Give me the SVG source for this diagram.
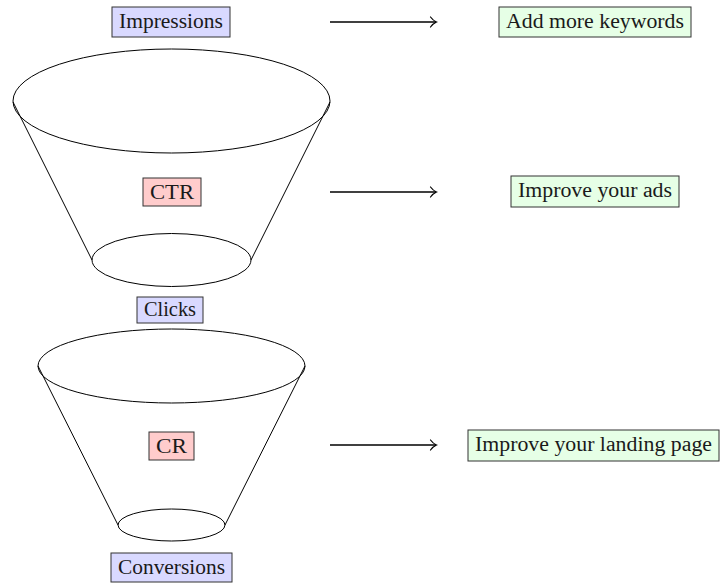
<svg xmlns="http://www.w3.org/2000/svg" width="720" height="583" viewBox="0 0 720 583">
  <defs>
    <style>
      .bg { fill: #ffffff; }
      .shape { fill: none; stroke: #000; stroke-width: 1; }
      .box { stroke: #333; stroke-width: 1; }
      .metric { fill: #d9d9ff; }
      .rate { fill: #ffcccc; }
      .action { fill: #e6ffe6; }
      .label { font-family: "Liberation Serif", "DejaVu Serif", serif; font-size: 20px; fill: #1a1a1a; text-anchor: middle; }
      .arrow { fill: none; stroke: #000; stroke-width: 1.3; }
      .head { fill: none; stroke: #000; stroke-width: 1.2; stroke-linecap: round; }
    </style>
  </defs>
  <rect class="bg" x="0" y="0" width="720" height="583"/>

  <!-- upper funnel: impressions to clicks -->
  <g id="funnel-top">
    <ellipse class="shape" cx="171.5" cy="101" rx="158.5" ry="52"/>
    <line class="shape" x1="13" y1="102" x2="92" y2="260"/>
    <line class="shape" x1="330" y1="102" x2="251" y2="260"/>
    <ellipse class="shape" cx="171.5" cy="260" rx="79.5" ry="26.5"/>
  </g>

  <!-- lower funnel: clicks to conversions -->
  <g id="funnel-bottom">
    <ellipse class="shape" cx="171.5" cy="366" rx="133.5" ry="37"/>
    <line class="shape" x1="38" y1="366" x2="118" y2="525"/>
    <line class="shape" x1="305" y1="366" x2="225" y2="525"/>
    <ellipse class="shape" cx="171.5" cy="525" rx="53.5" ry="16"/>
  </g>

  <g id="impressions">
    <rect class="box metric" x="112" y="7" width="118" height="30"/>
    <text class="label" x="171" y="28" textLength="104" lengthAdjust="spacingAndGlyphs">Impressions</text>
  </g>
  <g id="ctr">
    <rect class="box rate" x="143" y="178" width="58" height="28"/>
    <text class="label" x="172" y="199" textLength="44" lengthAdjust="spacingAndGlyphs">CTR</text>
  </g>
  <g id="clicks">
    <rect class="box metric" x="137" y="297" width="66" height="26"/>
    <text class="label" x="170" y="316" textLength="52" lengthAdjust="spacingAndGlyphs">Clicks</text>
  </g>
  <g id="cr">
    <rect class="box rate" x="149" y="432" width="45" height="28"/>
    <text class="label" x="171.5" y="453" textLength="31" lengthAdjust="spacingAndGlyphs">CR</text>
  </g>
  <g id="conversions">
    <rect class="box metric" x="111" y="553" width="121" height="29"/>
    <text class="label" x="171.5" y="574" textLength="107" lengthAdjust="spacingAndGlyphs">Conversions</text>
  </g>

  <g id="add-keywords">
    <rect class="box action" x="499" y="7" width="192" height="30"/>
    <text class="label" x="595" y="28" textLength="178" lengthAdjust="spacingAndGlyphs">Add more keywords</text>
  </g>
  <g id="improve-ads">
    <rect class="box action" x="511" y="176" width="168" height="31"/>
    <text class="label" x="595" y="197" textLength="154" lengthAdjust="spacingAndGlyphs">Improve your ads</text>
  </g>
  <g id="improve-landing">
    <rect class="box action" x="468" y="430" width="251" height="31"/>
    <text class="label" x="593.5" y="451" textLength="237" lengthAdjust="spacingAndGlyphs">Improve your landing page</text>
  </g>

  <!-- connectors -->
  <g id="connectors">
    <line class="arrow" x1="330" y1="22" x2="436" y2="22"/>
    <path class="head" d="M430.5,17 Q433,20.5 436.5,22 Q433,23.5 430.5,27"/>
    <line class="arrow" x1="330" y1="192" x2="436" y2="192"/>
    <path class="head" d="M430.5,187 Q433,190.5 436.5,192 Q433,193.5 430.5,197"/>
    <line class="arrow" x1="330" y1="445" x2="436" y2="445"/>
    <path class="head" d="M430.5,440 Q433,443.5 436.5,445 Q433,446.5 430.5,450"/>
  </g>
</svg>
